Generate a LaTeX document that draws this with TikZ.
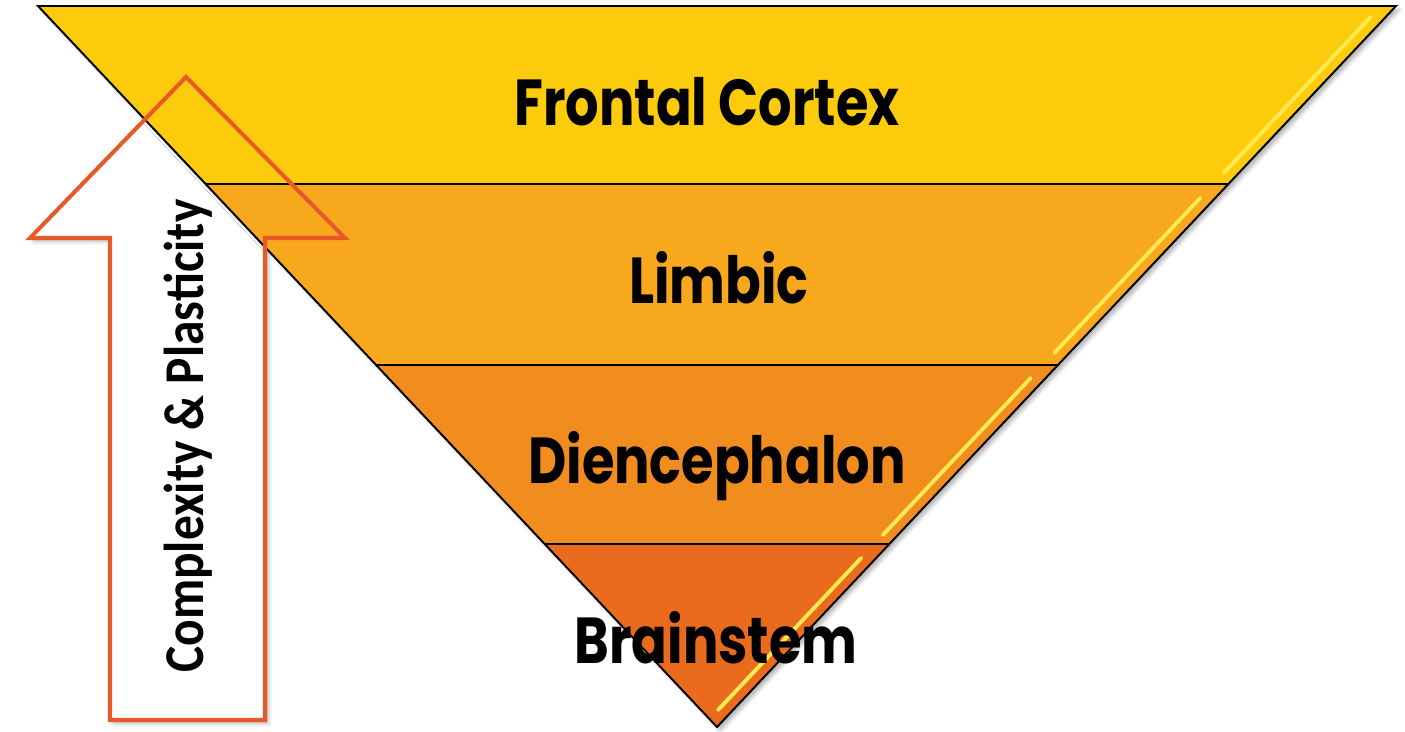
\documentclass[tikz,border=0pt]{standalone}
\usepackage{fontspec}
\setmainfont{Poppins}
\newfontfamily\sidefont{Carlito}
\usepackage{graphicx}
\usepackage{tikz}
\usetikzlibrary{calc}
\usetikzlibrary{shadows.blur}
\definecolor{bandA}{RGB}{252,203,12}
\definecolor{bandB}{RGB}{247,168,28}
\definecolor{bandC}{RGB}{241,140,31}
\definecolor{bandD}{RGB}{235,107,30}
\definecolor{arrowred}{RGB}{232,88,40}
\definecolor{gloss}{RGB}{255,234,80}
\newcommand{\lvl}[1]{\scalebox{0.81}[1]{\fontsize{37}{40}\selectfont\bfseries #1}}
\tikzset{
  edge/.style={black, line width=1.1pt, line join=miter},
  shine/.style={gloss, line width=2.2pt, line cap=round},
  arrowline/.style={arrowred, line width=2.3pt, line join=miter},
  lvltext/.style={anchor=base, inner sep=0pt}
}

\begin{document}
\begin{tikzpicture}[x=0.02cm,y=-0.02cm]
\useasboundingbox (0,0) rectangle (1405,731);

\coordinate (tl) at (38,6); %triangle corners
\coordinate (tr) at (1396,6);
\coordinate (ap) at (717,727);
\coordinate (l1) at ($(tl)!0.2469!(ap)$); %band borders, left side
\coordinate (l2) at ($(tl)!0.4979!(ap)$);
\coordinate (l3) at ($(tl)!0.7462!(ap)$);
\coordinate (r1) at ($(tr)!0.2469!(ap)$); %band borders, right side
\coordinate (r2) at ($(tr)!0.4979!(ap)$);
\coordinate (r3) at ($(tr)!0.7462!(ap)$);

%arrow body (white, under the triangle)
\path[fill=white, blur shadow={shadow xshift=2pt, shadow yshift=-2pt, shadow opacity=30}]
  (186,77) -- (345,238) -- (265,238) -- (265,720) -- (110,720) -- (110,238) -- (30,238) -- cycle;

%triangle shadow
\path[fill=white, blur shadow={shadow xshift=2pt, shadow yshift=-2pt, shadow opacity=30}]
  (tl) -- (tr) -- (ap) -- cycle;

\fill[bandA] (tl) -- (tr) -- (r1) -- (l1) -- cycle; %frontal cortex
\fill[bandB] (l1) -- (r1) -- (r2) -- (l2) -- cycle; %limbic
\fill[bandC] (l2) -- (r2) -- (r3) -- (l3) -- cycle; %diencephalon
\fill[bandD] (l3) -- (r3) -- (ap) -- cycle; %brainstem

\draw[shine] ($(tr)!0.0153!(ap)+(-15,0)$) -- ($(tr)!0.2316!(ap)+(-15,0)$); %gloss
\draw[shine] ($(tr)!0.2663!(ap)+(-15,0)$) -- ($(tr)!0.4813!(ap)+(-15,0)$);
\draw[shine] ($(tr)!0.5160!(ap)+(-15,0)$) -- ($(tr)!0.7337!(ap)+(-15,0)$);
\draw[shine] ($(tr)!0.7656!(ap)+(-15,0)$) -- ($(tr)!0.9764!(ap)+(-15,0)$);

\draw[edge] (tl) -- (tr) -- (ap) -- cycle; %outlines
\draw[edge] (l1) -- (r1);
\draw[edge] (l2) -- (r2);
\draw[edge] (l3) -- (r3);

%arrow outline
\draw[arrowline] (186,77) -- (345,238) -- (265,238) -- (265,720) -- (110,720) -- (110,238) -- (30,238) -- cycle;

\node[lvltext] (fc) at (707,125) {\lvl{Frontal Cortex}}; %labels
\node[lvltext] (lb) at (719,303) {\lvl{Limbic}};
\node[lvltext] (dc) at (717,483) {\lvl{Diencephalon}};
\node[lvltext] (bs) at (716,663) {\lvl{Brainstem}};

\node[anchor=base west, rotate=90, inner sep=0pt] (cp) at (203,673)
  {\scalebox{0.88}[1]{\sidefont\fontsize{32}{36}\selectfont\bfseries Complexity \& Plasticity}};

\end{tikzpicture}
\end{document}
